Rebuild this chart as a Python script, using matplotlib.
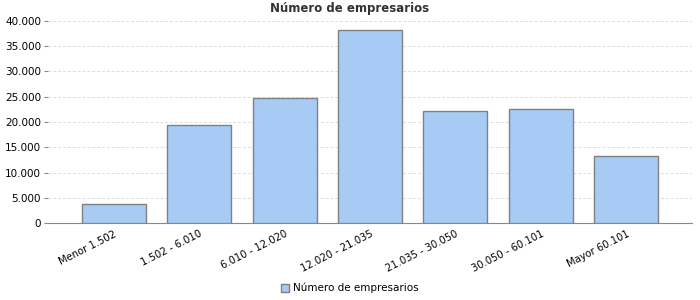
import matplotlib
matplotlib.use('Agg')
import matplotlib.pyplot as plt
from matplotlib.ticker import FuncFormatter

# datos
categorias = ['Menor 1.502', '1.502 - 6.010', '6.010 - 12.020', '12.020 - 21.035',
              '21.035 - 30.050', '30.050 - 60.101', 'Mayor 60.101']
empresarios = [3750, 19500, 24650, 38250, 22100, 22500, 13200]
serie = 'Número de empresarios'

plt.rcParams['font.family'] = ['DejaVu Sans']

fig = plt.figure(figsize=(7, 3), dpi=100)
ax = fig.add_axes([0.0686, 0.2557, 0.92, 0.675])

x = range(len(categorias))
ax.bar(x, empresarios, width=0.75, color='#a8cbf5', edgecolor='#808080',
       linewidth=1, label=serie, zorder=3)

ax.set_xlim(-0.77, 6.77)
ax.set_ylim(0, 40000)
ax.set_yticks(range(0, 40001, 5000))
ax.yaxis.set_major_formatter(FuncFormatter(lambda v, p: f'{int(v):,}'.replace(',', '.')))
ax.set_xticks(list(x))
ax.set_xticklabels(categorias, rotation=27, ha='right', rotation_mode='anchor')

ax.grid(axis='y', color='#dddddd', linestyle=(0, (3, 2)), linewidth=0.7, zorder=0)
for s in ['top', 'right', 'left']:
    ax.spines[s].set_visible(False)
ax.spines['bottom'].set_color('#888888')
ax.tick_params(axis='y', length=3, color='#888888', labelsize=7.5, pad=2)
ax.tick_params(axis='x', length=0, labelsize=7.2, pad=4)

fig.text(0.5, 0.973, serie, ha='center', va='center', fontsize=8.5,
         fontweight='bold', color='#333333')

fig.legend(loc='center', bbox_to_anchor=(0.5, 0.04), frameon=False,
           fontsize=7.5, handlelength=0.8, handleheight=0.8, handletextpad=0.4)

fig.savefig('out.png', dpi=100, facecolor='white')
